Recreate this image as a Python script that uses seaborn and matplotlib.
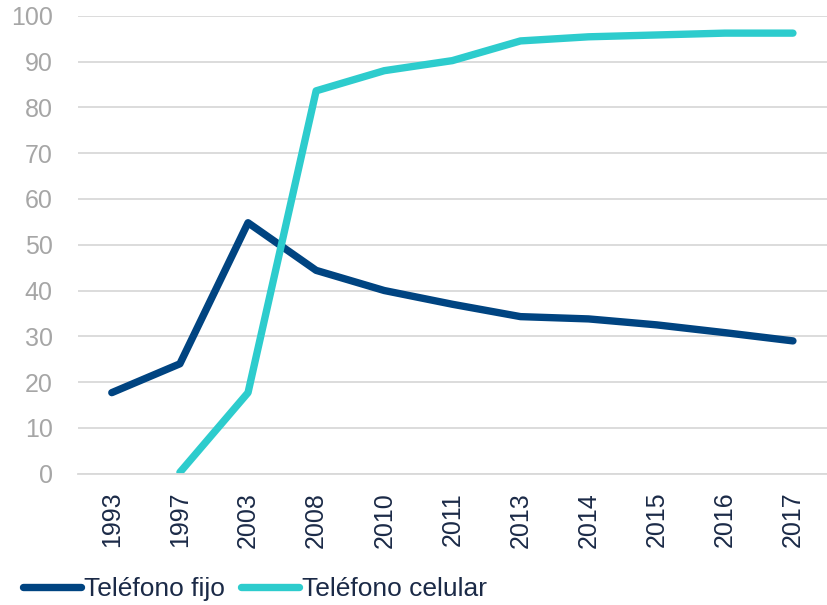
import pandas as pd
import numpy as np
import seaborn as sns
import matplotlib.pyplot as plt

# Datos
anios = ["1993", "1997", "2003", "2008", "2010", "2011", "2013", "2014", "2015", "2016", "2017"]
fijo = [17.7, 24.0, 54.8, 44.4, 40.0, 37.0, 34.3, 33.8, 32.5, 30.8, 29.0]
celular = [np.nan, 0.3, 17.7, 83.6, 88.0, 90.2, 94.5, 95.4, 95.8, 96.2, 96.2]

df = pd.DataFrame({
    "anio": anios * 2,
    "valor": fijo + celular,
    "serie": ["Teléfono fijo"] * len(anios) + ["Teléfono celular"] * len(anios),
})

sns.set_style("white")
plt.rcParams['font.family'] = ['Liberation Sans', 'DejaVu Sans']

fig = plt.figure(figsize=(8.27, 6.05), dpi=100)
ax = fig.add_axes([0.094, 0.217, 0.906, 0.757])

colores = {"Teléfono fijo": "#004481", "Teléfono celular": "#2DCCCD"}
sns.lineplot(data=df, x="anio", y="valor", hue="serie", palette=colores,
             linewidth=5.3, solid_capstyle="round", ax=ax, legend=False)

ax.set_ylim(0, 100)
ax.set_xlim(-0.5, len(anios) - 0.5)
ax.set_yticks(range(0, 101, 10))
ax.yaxis.grid(True, color="#D9D9D9", linewidth=1.3)
ax.set_axisbelow(True)
for s in ["top", "right", "left"]:
    ax.spines[s].set_visible(False)
ax.spines["bottom"].set_color("#D9D9D9")
ax.spines["bottom"].set_linewidth(1.3)

ax.set_xticks(np.arange(-0.5, len(anios), 1), minor=True)
ax.tick_params(axis="x", which="minor", length=7, color="#D9D9D9", width=1.3, direction="out")
ax.tick_params(axis="x", which="major", length=0, labelrotation=90, labelsize=18,
               labelcolor="#1B2A47", pad=13)
ax.tick_params(axis="y", length=0, labelsize=18, labelcolor="#A6A6A6", pad=18)
ax.set_xlabel("")
ax.set_ylabel("")

handles = [plt.Line2D([], [], color=colores[k], linewidth=5.3, solid_capstyle="round") for k in colores]
fig.legend(handles, list(colores.keys()), loc="center left", bbox_to_anchor=(0.028, 0.026),
           ncol=2, frameon=False, borderpad=0, borderaxespad=0,
           handlelength=2.2, handletextpad=0.12, columnspacing=0.6,
           fontsize=19, labelcolor="#1B2A47")

fig.savefig("out.png", dpi=100)
